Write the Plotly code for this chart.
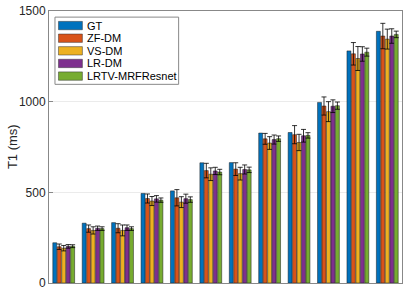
import plotly.graph_objects as go

groups = list(range(1, 13))
series_names = ["GT", "ZF-DM", "VS-DM", "LR-DM", "LRTV-MRFResnet"]
colors = ["#0072BD", "#D95319", "#EDB120", "#7E2F8E", "#77AC30"]

gt = [222, 330, 333, 494, 508, 663, 664, 827, 830, 996, 1280, 1388]
zf = [200, 300, 302, 466, 470, 620, 628, 795, 818, 976, 1264, 1362]
vs = [192, 290, 290, 452, 446, 600, 603, 772, 775, 945, 1238, 1345]
lr = [202, 302, 305, 464, 465, 618, 626, 791, 812, 975, 1263, 1362]
lrtv = [203, 300, 300, 457, 460, 612, 624, 796, 814, 978, 1273, 1371]

zf_err = [15, 20, 25, 25, 45, 40, 35, 30, 50, 50, 62, 70]
vs_err = [15, 20, 30, 25, 30, 35, 35, 35, 45, 55, 66, 55]
lr_err = [10, 12, 15, 18, 25, 20, 25, 25, 35, 35, 40, 40]
lrtv_err = [8, 10, 10, 12, 15, 15, 15, 15, 15, 20, 22, 18]

y_ticks = [0, 500, 1000, 1500]

values = [gt, zf, vs, lr, lrtv]
errors = [None, zf_err, vs_err, lr_err, lrtv_err]

fig = go.Figure()
for name, col, vals, err in zip(series_names, colors, values, errors):
    kw = {}
    if err is not None:
        kw["error_y"] = dict(type="data", array=err, visible=True, color="#000000",
                             thickness=0.8, width=2.5)
    fig.add_trace(go.Bar(x=groups, y=vals, name=name, marker=dict(color=col, line=dict(color="#1a1a1a", width=0.5)),
                         showlegend=False, **kw))

L, R, T, B = 49, 4, 6, 8
W, H = 407, 294
pw, ph = W - L - R, H - T - B

def px(x):
    return (x - L) / pw

def py(y):
    return (H - B - y) / ph

shapes = []
annotations = []
# legend box
shapes.append(dict(type="rect", xref="paper", yref="paper", x0=px(55), x1=px(179), y0=py(81.5), y1=py(12.3),
                   line=dict(color="#888888", width=1), fillcolor="white", layer="above"))
for i, (name, col) in enumerate(zip(series_names, colors)):
    top = 16.7 + 13 * i
    shapes.append(dict(type="rect", xref="paper", yref="paper", x0=px(58.5), x1=px(82.5), y0=py(top + 8.6), y1=py(top),
                       line=dict(color="#333333", width=0.5), fillcolor=col, layer="above"))
    annotations.append(dict(xref="paper", yref="paper", x=px(85.5), y=py(top + 4.3), text=name, showarrow=False,
                            xanchor="left", yanchor="middle", font=dict(size=11, color="#000000")))

annotations.append(dict(xref="paper", yref="paper", x=px(12), y=py(146), text="T1 (ms)", textangle=-90,
                        showarrow=False, xanchor="center", yanchor="middle", font=dict(size=13, color="#262626")))

fig.update_layout(
    width=W, height=H,
    margin=dict(l=L, r=R, t=T, b=B),
    paper_bgcolor="white", plot_bgcolor="white",
    barmode="group", bargap=0.24, bargroupgap=0.12,
    font=dict(family="Liberation Sans, Arial, sans-serif", size=12, color="#262626"),
    shapes=shapes, annotations=annotations,
    xaxis=dict(range=[0.5, 12.5], showticklabels=False, ticks="", showgrid=False,
               showline=True, linecolor="#888888", linewidth=1, mirror=True, zeroline=False),
    yaxis=dict(range=[0, 1500.01], tickvals=y_ticks, ticktext=[str(v) for v in y_ticks],
               ticks="inside", ticklen=4, ticklabeloverflow="allow",
               tickcolor="#888888", showgrid=True, gridcolor="#ebebeb", gridwidth=1,
               showline=True, linecolor="#888888", linewidth=1, mirror=True, zeroline=False,
               tickfont=dict(size=12, color="#262626")),
)

fig.write_html("out.html", config={"displayModeBar": False},
               post_script="document.body.style.margin='0';document.body.style.overflow='hidden';")
